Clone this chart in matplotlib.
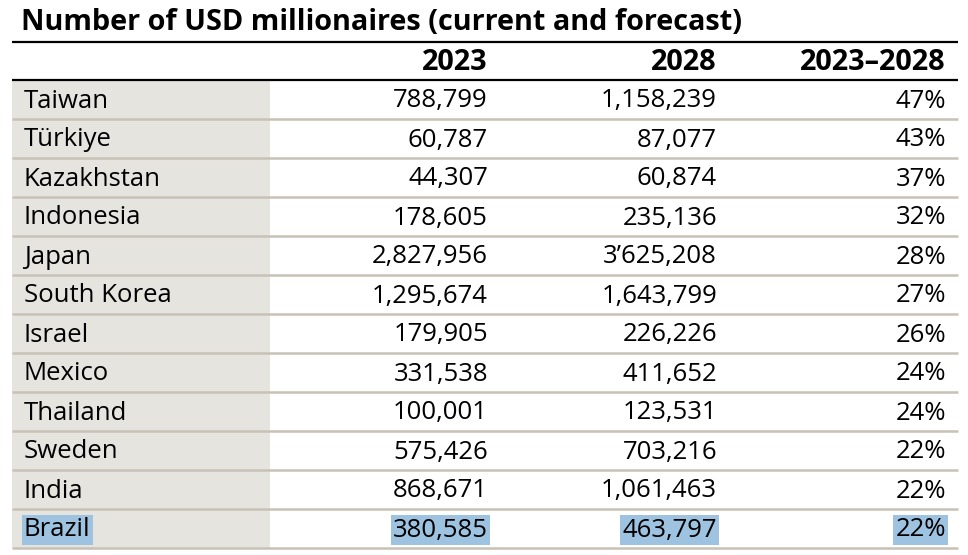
import matplotlib

matplotlib.use("Agg")
import matplotlib.pyplot as plt

# table content, as printed
title = "Number of USD millionaires (current and forecast)"
headers = ["2023", "2028", "2023\u20132028"]
countries = ["Taiwan", "Türkiye", "Kazakhstan", "Indonesia", "Japan", "South Korea",
             "Israel", "Mexico", "Thailand", "Sweden", "India", "Brazil"]
mill_2023 = ["788,799", "60,787", "44,307", "178,605", "2,827,956", "1,295,674",
             "179,905", "331,538", "100,001", "575,426", "868,671", "380,585"]
mill_2028 = ["1,158,239", "87,077", "60,874", "235,136", "3\u2019625,208", "1,643,799",
             "226,226", "411,652", "123,531", "703,216", "1,061,463", "463,797"]
growth = ["47%", "43%", "37%", "32%", "28%", "27%", "26%", "24%", "24%", "22%", "22%", "22%"]
highlighted = "Brazil"

W, H = 968, 555
fig = plt.figure(figsize=(W / 100, H / 100), dpi=100)
ax = fig.add_axes([0, 0, 1, 1])
ax.set_xlim(0, W)
ax.set_ylim(H, 0)
ax.axis("off")

FONT = ["Open Sans", "DejaVu Sans"]
FS = 18.5
FS_HEAD = 20.8
left, right = 12, 958
shade_right = 270
col_right = [488, 717, 946]
top_line, head_line = 42, 80
row_h = 39

ax.text(21, 22, title, fontsize=FS_HEAD, fontweight="bold", family=FONT, va="center", ha="left")
ax.plot([left, right], [top_line, top_line], color="black", lw=1.6, solid_capstyle="butt")

for x, h in zip(col_right, headers):
    ax.text(x, 62, h, fontsize=FS_HEAD, fontweight="bold", family=FONT, va="center", ha="right")

n = len(countries)
ax.add_patch(plt.Rectangle((left, head_line), shade_right - left, n * row_h,
                           facecolor="#e6e4df", edgecolor="none", zorder=0))

for i, c in enumerate(countries):
    yc = head_line + row_h * (i + 0.5) + 1.5
    hl = dict(facecolor="#9dc3e0", edgecolor="none", pad=1.5) if c == highlighted else None
    ax.text(24, yc, c, fontsize=FS, family=FONT, va="center", ha="left", bbox=hl)
    for x, v in zip(col_right, [mill_2023[i], mill_2028[i], growth[i]]):
        ax.text(x, yc, v, fontsize=FS, family=FONT, va="center", ha="right", bbox=hl)
    yb = head_line + row_h * (i + 1)
    ax.plot([left, right], [yb, yb], color="#c8c1b5", lw=1.8, solid_capstyle="butt", zorder=1)

ax.plot([left, right], [head_line, head_line], color="black", lw=1.6, solid_capstyle="butt", zorder=2)

fig.savefig("out.png", dpi=100)
